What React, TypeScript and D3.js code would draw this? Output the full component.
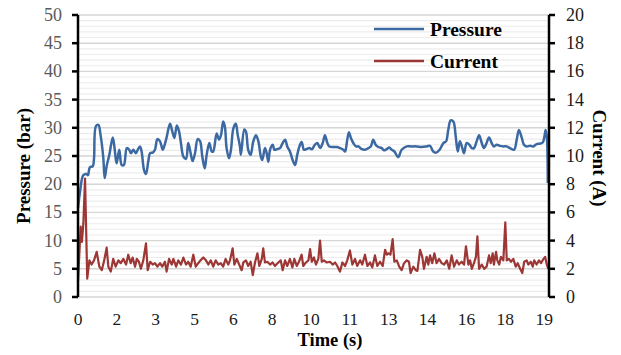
import React from "react";
import * as d3 from "d3";

// ---- data ----
const pressureT = [0,0.08,0.22,0.36,0.41,0.49,0.61,0.66,0.74,0.84,0.93,1.04,1.10,1.18,1.29,1.43,1.50,1.59,1.70,1.80,1.89,2.01,2.11,2.18,2.28,2.38,2.46,2.55,2.62,2.72,2.80,2.90,2.97,3.08,3.17,3.27,3.38,3.49,3.55,3.65,3.79,3.88,3.97,4.07,4.16,4.24,4.34,4.45,4.54,4.64,4.72,4.82,4.93,5.03,5.12,5.22,5.30,5.41,5.51,5.57,5.71,5.81,5.89,5.98,6.05,6.12,6.22,6.30,6.40,6.50,6.58,6.67,6.71,6.85,6.92,7.01,7.11,7.22,7.33,7.43,7.53,7.59,7.70,7.77,7.84,7.91,8.02,8.09,8.18,8.32,8.43,8.53,8.62,8.73,8.84,8.94,9.03,9.12,9.21,9.31,9.39,9.53,9.63,9.76,9.86,9.97,10.08,10.17,10.27,10.35,10.52,10.66,10.79,10.93,11.00,11.09,11.16,11.24,11.34,11.45,11.55,11.69,11.82,11.96,12.06,12.16,12.26,12.37,12.51,12.60,12.71,12.82,12.92,13.03,13.19,13.33,13.54,13.74,13.95,14.16,14.36,14.50,14.63,14.75,14.91,15.05,15.16,15.25,15.35,15.46,15.56,15.64,15.73,15.83,15.90,16.01,16.12,16.22,16.31,16.42,16.52,16.63,16.72,16.83,16.93,17.04,17.13,17.25,17.38,17.52,17.66,17.79,17.96,18.07,18.16,18.28,18.37,18.48,18.62,18.75,18.89,19.03,19.14,19.21,19.26,19.31,19.35];
const pressureV = [15.8,18.5,21.6,21.8,21.6,23.0,23.2,24.6,30.3,30.5,28.7,24.8,21.1,23.2,25.2,28.3,26.6,23.7,26.1,23.4,23.4,26.4,26.1,25.5,26.1,25.5,26.1,26.7,25.8,22.5,21.8,24.2,25.5,25.6,26.1,28.0,27.6,26.1,26.7,28.3,30.7,29.4,28.2,30.4,29.4,27.3,24.9,24.5,27.3,25.5,24.1,25.5,28.0,27.6,24.9,22.8,25.2,27.3,25.8,25.8,29.0,27.9,28.7,31.1,30.2,26.4,24.6,26.1,29.9,30.7,28.7,26.7,25.2,29.7,29.3,26.1,25.2,27.6,28.7,27.6,24.9,24.3,26.4,25.5,24.0,26.1,27.0,26.1,26.2,26.4,27.3,27.9,26.7,25.8,24.3,23.4,25.2,26.7,27.5,26.1,26.2,26.4,26.2,27.0,27.3,26.4,27.3,28.7,27.3,26.7,26.6,26.6,26.4,26.1,25.8,27.9,29.2,28.2,27.3,26.7,26.7,26.2,26.1,26.4,26.7,27.9,27.0,26.6,26.4,26.0,26.2,26.5,26.1,25.8,24.8,26.1,26.7,26.7,26.7,26.6,26.7,26.8,25.8,25.6,26.2,27.3,27.6,29.6,31.3,31.1,28.4,25.8,27.6,26.4,25.5,27.3,27.0,26.4,26.4,27.6,28.7,27.3,26.4,27.3,28.3,27.3,26.7,27.0,26.8,26.7,26.7,26.4,26.1,27.9,29.6,28.2,27.0,26.7,26.8,26.7,27.1,27.2,27.4,28.4,29.6,28.4,20.2];

const currentT = [0,0.11,0.16,0.22,0.29,0.38,0.47,0.56,0.66,0.77,0.88,0.98,1.08,1.18,1.25,1.35,1.45,1.55,1.66,1.76,1.87,1.98,2.07,2.17,2.25,2.35,2.42,2.51,2.59,2.69,2.80,2.87,2.97,3.08,3.17,3.27,3.38,3.47,3.58,3.65,3.75,3.86,3.93,4.04,4.13,4.24,4.34,4.45,4.54,4.64,4.75,4.85,4.95,5.05,5.16,5.27,5.37,5.47,5.57,5.67,5.78,5.88,5.98,6.08,6.19,6.26,6.37,6.44,6.54,6.64,6.74,6.81,6.92,7.01,7.11,7.20,7.29,7.39,7.47,7.57,7.63,7.70,7.80,7.91,8.02,8.11,8.25,8.35,8.43,8.53,8.62,8.73,8.83,8.91,9.01,9.10,9.21,9.28,9.39,9.49,9.56,9.63,9.72,9.80,9.90,9.97,10.04,10.13,10.24,10.38,10.49,10.59,10.68,10.79,10.89,11.00,11.09,11.20,11.30,11.41,11.50,11.62,11.71,11.82,11.92,12.03,12.12,12.23,12.33,12.44,12.55,12.65,12.72,12.78,12.87,12.96,13.03,13.13,13.23,13.33,13.43,13.54,13.63,13.70,13.81,13.91,13.98,14.09,14.18,14.25,14.36,14.43,14.50,14.59,14.68,14.77,14.87,14.98,15.08,15.19,15.29,15.39,15.49,15.60,15.69,15.80,15.90,15.98,16.08,16.15,16.22,16.31,16.39,16.45,16.52,16.63,16.73,16.83,16.93,17.00,17.08,17.13,17.22,17.27,17.35,17.42,17.52,17.60,17.66,17.75,17.83,17.93,18.03,18.11,18.21,18.30,18.38,18.48,18.55,18.65,18.73,18.79,18.89,18.99,19.07,19.17,19.24,19.31,19.37];
const currentV = [1.1,5.0,3.9,5.2,8.4,1.3,2.6,2.3,2.6,3.2,2.15,1.9,2.6,3.5,2.15,1.8,2.7,2.15,2.6,2.4,2.7,2.3,3.0,2.4,2.8,2.15,2.7,2.5,2.0,2.6,3.8,1.9,2.5,2.3,2.4,2.15,2.4,2.15,2.5,1.8,2.7,2.3,2.7,2.15,2.6,2.3,2.8,2.3,2.5,2.15,3.0,2.15,2.4,2.6,2.8,2.6,2.3,2.6,2.15,2.6,2.3,2.4,2.15,2.7,2.3,2.6,3.45,2.3,2.7,2.3,1.9,2.45,2.6,2.2,2.5,1.55,2.45,3.1,2.2,2.7,3.45,2.45,2.5,2.3,2.45,2.2,2.45,2.6,1.9,2.6,2.2,2.7,2.1,2.7,2.2,2.5,3.0,2.2,2.45,2.6,3.4,2.5,2.8,2.3,2.7,4.0,2.5,2.6,2.45,2.5,2.3,2.45,2.2,1.8,2.45,2.2,2.6,3.3,2.3,2.7,2.2,2.6,2.3,3.0,2.2,2.45,2.1,2.95,2.2,2.5,2.2,3.35,3.0,3.1,3.0,4.1,2.5,2.6,2.15,1.9,2.4,2.6,2.5,1.7,2.15,1.9,1.85,3.35,2.85,2.0,2.85,2.3,2.95,2.4,3.1,2.4,2.7,2.4,2.3,2.6,2.0,2.95,2.15,2.6,2.3,2.5,2.3,3.6,2.3,2.6,2.0,2.4,2.85,4.3,2.0,2.3,2.0,2.15,2.95,2.4,3.1,2.3,3.2,2.6,2.3,2.85,2.6,5.3,2.6,2.7,2.5,2.7,2.15,2.4,2.0,1.7,2.5,2.6,2.3,2.5,2.15,2.6,2.3,2.6,2.4,2.7,2.85,2.3,2.0];

const xTickTimes = [0, 1.6, 3.2, 4.8, 6.4, 8.0, 9.6, 11.2, 12.8, 14.4, 16.0, 17.6, 19.2];
const xTickLabels = ["0", "2", "3", "5", "6", "8", "10", "11", "13", "14", "16", "18", "19"];
const pressureTicks = [0, 5, 10, 15, 20, 25, 30, 35, 40, 45, 50];
const currentTicks = [0, 2, 4, 6, 8, 10, 12, 14, 16, 18, 20];
const seriesNames = ["Pressure", "Current"];
const seriesColors = ["#3c69a2", "#9d3735"];

const W = 621, H = 355;
const L = 78, R = 549, T = 15, B = 297;
const FONT = "Liberation Serif, Times New Roman, serif";

export default function App() {
  const x = d3.scaleLinear().domain([0, 19.4]).range([L, R]);
  const yP = d3.scaleLinear().domain([0, 50]).range([B, T]);
  const yC = d3.scaleLinear().domain([0, 20]).range([B, T]);

  const pData = pressureT.map((t, i) => [t, pressureV[i]] as [number, number]);
  const cData = currentT.map((t, i) => [t, currentV[i]] as [number, number]);

  const pLine = d3.line<[number, number]>().x(d => x(d[0])).y(d => yP(d[1])).curve(d3.curveCatmullRom.alpha(0.5));
  const cLine = d3.line<[number, number]>().x(d => x(d[0])).y(d => yC(d[1]));

  const grid = d3.range(0, 51, 1);
  const tStyle = { fontFamily: FONT } as React.CSSProperties;

  return (
    <svg width={W} height={H} style={{ position: "absolute", left: 0, top: 0, background: "#fff" }}>
      <rect x={0} y={0} width={W} height={H} fill="#fff" />
      {grid.map(v => (
        <line key={"g" + v} x1={L} x2={R} y1={yP(v)} y2={yP(v)}
          stroke={v % 5 === 0 ? "#d6d6d6" : "#ececec"} strokeWidth={v % 5 === 0 ? 1.4 : 1.1} />
      ))}
      <path d={pLine(pData) || ""} fill="none" stroke={seriesColors[0]} strokeWidth={2.5} strokeLinejoin="round" />
      <path d={cLine(cData) || ""} fill="none" stroke={seriesColors[1]} strokeWidth={2.2} strokeLinejoin="round" />

      {/* left axis */}
      <line x1={L} x2={L} y1={T} y2={B} stroke="#000" strokeWidth={2.5} />
      {pressureTicks.map(v => (
        <g key={"lt" + v}>
          <line x1={L - 6} x2={L} y1={yP(v)} y2={yP(v)} stroke="#000" strokeWidth={2.5} />
          <text x={L - 16} y={yP(v) + 6} textAnchor="end" fontSize={18} fill="#595959" style={tStyle}>{v}</text>
        </g>
      ))}
      {/* right axis */}
      <line x1={R} x2={R} y1={T} y2={B} stroke="#000" strokeWidth={2.5} />
      {currentTicks.map(v => (
        <g key={"rt" + v}>
          <line x1={R} x2={R + 6} y1={yC(v)} y2={yC(v)} stroke="#000" strokeWidth={2.5} />
          <text x={R + 17} y={yC(v) + 6} textAnchor="start" fontSize={18} fill="#1a1a1a" style={tStyle}>{v}</text>
        </g>
      ))}
      {/* x labels */}
      {xTickTimes.map((t, i) => (
        <text key={"xt" + i} x={x(t)} y={325} textAnchor="middle" fontSize={17.5} fill="#1a1a1a" style={tStyle}>{xTickLabels[i]}</text>
      ))}

      {/* titles */}
      <text x={330} y={346} textAnchor="middle" fontSize={18.5} fontWeight="bold" fill="#000" style={tStyle}>Time (s)</text>
      <text transform="translate(30,166) rotate(-90)" textAnchor="middle" fontSize={19} fontWeight="bold" fill="#000" style={tStyle}>Pressure (bar)</text>
      <text transform="translate(593,158) rotate(90)" textAnchor="middle" fontSize={19} fontWeight="bold" fill="#000" style={tStyle}>Current (A)</text>

      {/* legend */}
      {seriesNames.map((n, i) => (
        <g key={"lg" + n}>
          <line x1={374} x2={424} y1={29 + i * 32} y2={29 + i * 32} stroke={seriesColors[i]} strokeWidth={2.4} />
          <text x={430} y={36 + i * 32} fontSize={19.5} fontWeight="bold" fill="#000" style={tStyle}>{n}</text>
        </g>
      ))}
    </svg>
  );
}
